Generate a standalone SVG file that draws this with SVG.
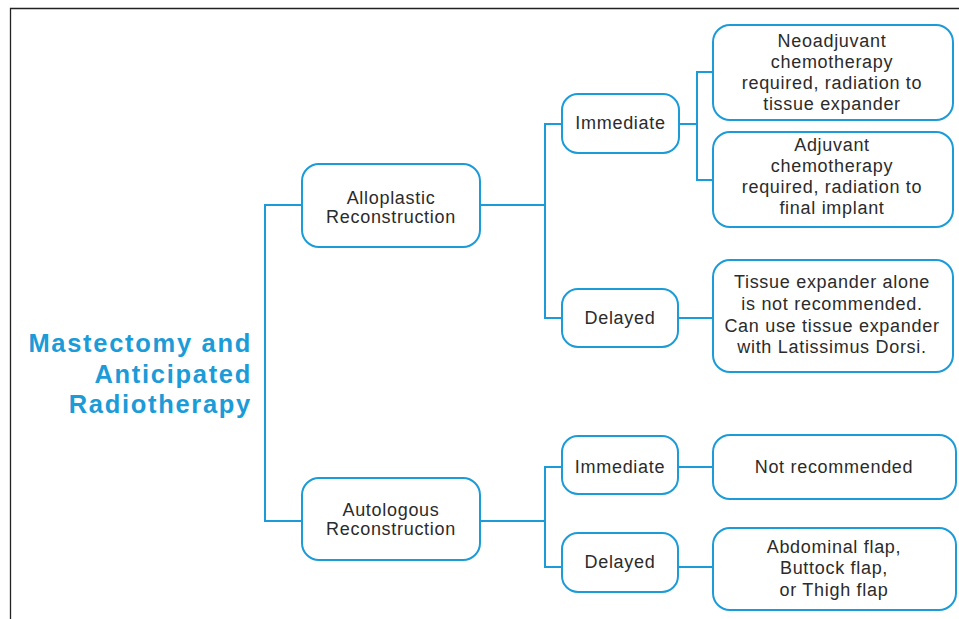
<svg xmlns="http://www.w3.org/2000/svg" width="959" height="619" viewBox="0 0 959 619">
<style>
.box{fill:#fff;stroke:#1B9BD7;stroke-width:2}
.ln{fill:none;stroke:#1B9BD7;stroke-width:2}
.t{font-family:"Liberation Sans",Arial,sans-serif;font-size:18px;letter-spacing:0.7px;fill:#2b2b2b;text-anchor:middle}
.title{font-family:"Liberation Sans",Arial,sans-serif;font-size:25.5px;font-weight:bold;letter-spacing:1.7px;fill:#1B9BD7;text-anchor:end}
</style>
<rect width="959" height="619" fill="#fff"/>
<path d="M10.5 619 V8.5 H959" fill="none" stroke="#222" stroke-width="1.3"/>
<g id="title">
<text class="title" x="252" y="352">Mastectomy and</text>
<text class="title" x="252" y="383">Anticipated</text>
<text class="title" x="252" y="413">Radiotherapy</text>
</g>
<g id="connectors">
<path class="ln" d="M302 205 H265 V521 H302"/>
<path class="ln" d="M480 205 H545 M562 124 H545 V318 H562"/>
<path class="ln" d="M679 124 H697 M713 72 H697 V180 H713"/>
<path class="ln" d="M678 318 H713"/>
<path class="ln" d="M480 521 H545 M562 467 H545 V567 H562"/>
<path class="ln" d="M678 467 H713"/>
<path class="ln" d="M678 567 H713"/>
</g>
<g id="alloplastic">
<rect class="box" x="302" y="164" width="178" height="83" rx="17"/>
<text class="t" x="391" y="204">Alloplastic</text>
<text class="t" x="391" y="223">Reconstruction</text>
</g>
<g id="autologous">
<rect class="box" x="302" y="478" width="178" height="82" rx="17"/>
<text class="t" x="391" y="516">Autologous</text>
<text class="t" x="391" y="535">Reconstruction</text>
</g>
<g id="immediate1">
<rect class="box" x="562" y="94" width="117" height="59" rx="16"/>
<text class="t" x="620.5" y="129">Immediate</text>
</g>
<g id="delayed1">
<rect class="box" x="562" y="289" width="116" height="58" rx="16"/>
<text class="t" x="620" y="324">Delayed</text>
</g>
<g id="immediate2">
<rect class="box" x="562" y="436" width="116" height="58" rx="16"/>
<text class="t" x="620" y="473">Immediate</text>
</g>
<g id="delayed2">
<rect class="box" x="562" y="533" width="116" height="59" rx="16"/>
<text class="t" x="620" y="568">Delayed</text>
</g>
<g id="neoadjuvant">
<rect class="box" x="713" y="25" width="240" height="95" rx="17"/>
<text class="t" x="832" y="47">Neoadjuvant</text>
<text class="t" x="832" y="68">chemotherapy</text>
<text class="t" x="832" y="89">required, radiation to</text>
<text class="t" x="832" y="110">tissue expander</text>
</g>
<g id="adjuvant">
<rect class="box" x="713" y="132" width="240" height="95" rx="17"/>
<text class="t" x="832" y="151">Adjuvant</text>
<text class="t" x="832" y="172">chemotherapy</text>
<text class="t" x="832" y="193">required, radiation to</text>
<text class="t" x="832" y="214">final implant</text>
</g>
<g id="tissue-expander">
<rect class="box" x="713" y="260" width="240" height="112" rx="17"/>
<text class="t" x="832" y="288">Tissue expander alone</text>
<text class="t" x="832" y="310">is not recommended.</text>
<text class="t" x="832" y="332">Can use tissue expander</text>
<text class="t" x="832" y="353">with Latissimus Dorsi.</text>
</g>
<g id="not-recommended">
<rect class="box" x="713" y="435" width="243" height="64" rx="17"/>
<text class="t" x="834" y="473">Not recommended</text>
</g>
<g id="flaps">
<rect class="box" x="713" y="528" width="243" height="82" rx="17"/>
<text class="t" x="834" y="553">Abdominal flap,</text>
<text class="t" x="834" y="574">Buttock flap,</text>
<text class="t" x="834" y="596">or Thigh flap</text>
</g>
</svg>
